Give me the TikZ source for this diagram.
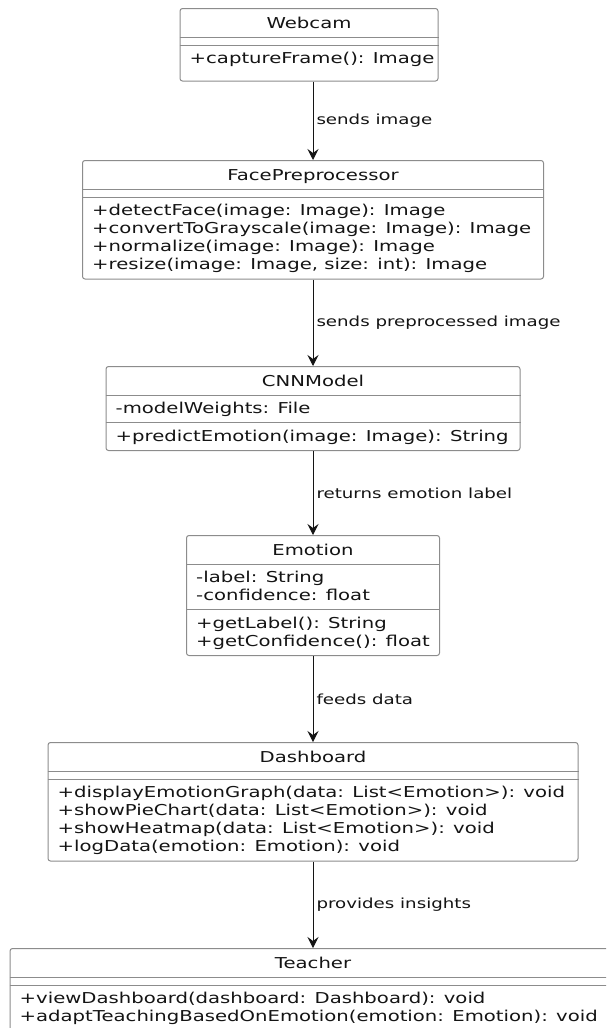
\documentclass[tikz,border=0pt]{standalone}
\usepackage{fontspec}
\setmainfont{DejaVu Sans}[FakeStretch=1.31]
\usetikzlibrary{arrows.meta,calc,positioning}
\definecolor{boxline}{HTML}{8C8C8C}
\definecolor{ink}{HTML}{141414}
\tikzset{cls/.style={draw=boxline, line width=1pt, rounded corners=2.5pt, fill=white, anchor=north, inner sep=0pt}}
\tikzset{sepline/.style={draw=boxline, line width=1pt}}
\tikzset{ttl/.style={anchor=base, inner sep=0pt, text=ink, font=\fontsize{15}{18}\selectfont}}
\tikzset{mbr/.style={anchor=base west, inner sep=0pt, text=ink, font=\fontsize{15}{18}\selectfont}}
\tikzset{lbl/.style={anchor=west, inner sep=3pt, text=ink, font=\fontsize{13.9}{16}\selectfont}}
\tikzset{dep/.style={draw=ink, line width=1pt, -{Stealth[length=11pt,width=11pt,inset=4pt]}}}

\begin{document}
\begin{tikzpicture}[x=1pt,y=-1pt]
\useasboundingbox (0,0) rectangle (606,1028);
\clip (0,0) rectangle (606,1028);

% Webcam
\node[cls, minimum width=258pt, minimum height=72.5pt] (webcam) at (309,8) {};
\draw[sepline] ($(webcam.north west)+(0,29)$) -- ($(webcam.north east)+(0,29)$);
\draw[sepline] ($(webcam.north west)+(0,37)$) -- ($(webcam.north east)+(0,37)$);
\node[ttl] at ($(webcam.north)+(0,20)$) {Webcam};
\node[mbr] at ($(webcam.north west)+(10,55.5)$) {+captureFrame(): Image};

% FacePreprocessor
\node[cls, minimum width=461pt, minimum height=118.5pt] (face) at (313,160) {};
\draw[sepline] ($(face.north west)+(0,29)$) -- ($(face.north east)+(0,29)$);
\draw[sepline] ($(face.north west)+(0,37)$) -- ($(face.north east)+(0,37)$);
\node[ttl] at ($(face.north)+(0,20)$) {FacePreprocessor};
\foreach \t [count=\i from 0] in {{+detectFace(image: Image): Image},
    {+convertToGrayscale(image: Image): Image},
    {+normalize(image: Image): Image},
    {+resize(image: Image, size: int): Image}}
  \node[mbr] at ($(face.north west)+(10,55.5+18*\i)$) {\t};

% CNNModel
\node[cls, minimum width=414pt, minimum height=84pt] (cnn) at (313,366) {};
\draw[sepline] ($(cnn.north west)+(0,29)$) -- ($(cnn.north east)+(0,29)$);
\draw[sepline] ($(cnn.north west)+(0,56.5)$) -- ($(cnn.north east)+(0,56.5)$);
\node[ttl] at ($(cnn.north)+(0,20)$) {CNNModel};
\node[mbr] at ($(cnn.north west)+(10,47.5)$) {-modelWeights: File};
\node[mbr] at ($(cnn.north west)+(10,75)$) {+predictEmotion(image: Image): String};

% Emotion
\node[cls, minimum width=253pt, minimum height=120pt] (emotion) at (313,535) {};
\draw[sepline] ($(emotion.north west)+(0,29)$) -- ($(emotion.north east)+(0,29)$);
\draw[sepline] ($(emotion.north west)+(0,74.5)$) -- ($(emotion.north east)+(0,74.5)$);
\node[ttl] at ($(emotion.north)+(0,20)$) {Emotion};
\node[mbr] at ($(emotion.north west)+(10,47.5)$) {-label: String};
\node[mbr] at ($(emotion.north west)+(10,65.5)$) {-confidence: float};
\node[mbr] at ($(emotion.north west)+(10,93)$) {+getLabel(): String};
\node[mbr] at ($(emotion.north west)+(10,111)$) {+getConfidence(): float};

% Dashboard
\node[cls, minimum width=530pt, minimum height=118.5pt] (dash) at (313,742) {};
\draw[sepline] ($(dash.north west)+(0,29)$) -- ($(dash.north east)+(0,29)$);
\draw[sepline] ($(dash.north west)+(0,37)$) -- ($(dash.north east)+(0,37)$);
\node[ttl] at ($(dash.north)+(0,20)$) {Dashboard};
\foreach \t [count=\i from 0] in {{+displayEmotionGraph(data: List<Emotion>): void},
    {+showPieChart(data: List<Emotion>): void},
    {+showHeatmap(data: List<Emotion>): void},
    {+logData(emotion: Emotion): void}}
  \node[mbr] at ($(dash.north west)+(10,55.5+18*\i)$) {\t};

% Teacher
\node[cls, minimum width=606pt, minimum height=82.5pt] (teacher) at (313,948) {};
\draw[sepline] ($(teacher.north west)+(0,29)$) -- ($(teacher.north east)+(0,29)$);
\draw[sepline] ($(teacher.north west)+(0,37)$) -- ($(teacher.north east)+(0,37)$);
\node[ttl] at ($(teacher.north)+(0,20)$) {Teacher};
\node[mbr] at ($(teacher.north west)+(10,55.5)$) {+viewDashboard(dashboard: Dashboard): void};
\node[mbr] at ($(teacher.north west)+(10,73.5)$) {+adaptTeachingBasedOnEmotion(emotion: Emotion): void};

% relations
\draw[dep] (webcam.south -| face.north) -- node[lbl] {sends image} (face.north);
\draw[dep] (face.south) -- node[lbl] {sends preprocessed image} (cnn.north);
\draw[dep] (cnn.south) -- node[lbl] {returns emotion label} (emotion.north);
\draw[dep] (emotion.south) -- node[lbl] {feeds data} (dash.north);
\draw[dep] (dash.south) -- node[lbl] {provides insights} (teacher.north);
\end{tikzpicture}
\end{document}
